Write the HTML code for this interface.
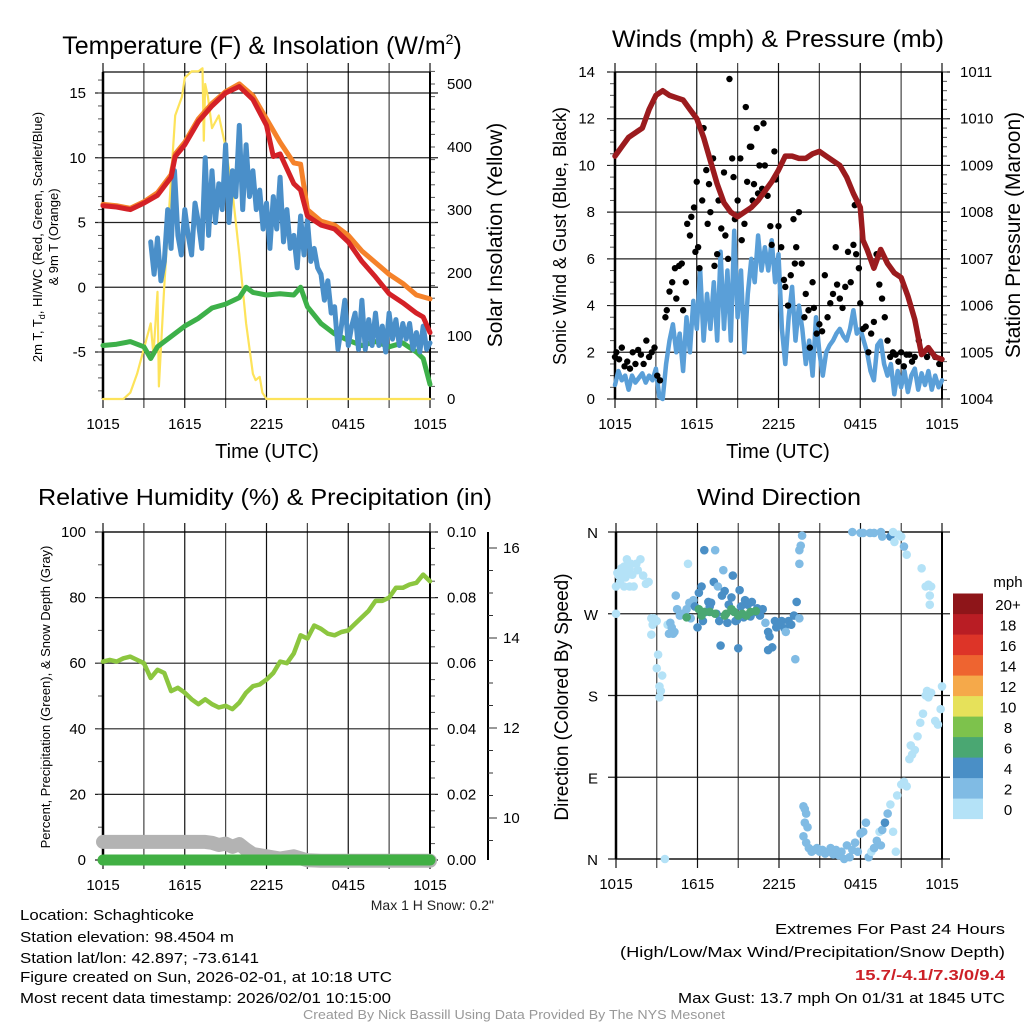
<!DOCTYPE html>
<html><head><meta charset="utf-8"><style>
html,body{margin:0;padding:0;background:#fff;}
svg{display:block;font-family:"Liberation Sans",sans-serif;}
</style></head><body>
<svg id="fig" xmlns="http://www.w3.org/2000/svg" width="1024" height="1024" viewBox="0 0 1024 1024"></svg>
<script>
// ---------- Panel 1 data ----------
const redT=[0,1,2,3,4,5,5.3,6,7,8,9,10,11,12,12.5,13,14,14.5,15,16,17,18,19,20,21,22,23,23.5,24];
const redV=[6.3,6.2,6.0,6.5,7.1,8.5,10.1,11.0,12.8,14.0,15.0,15.5,14.5,12.5,10.1,10.3,8.0,7.5,5.5,4.8,4.5,3.5,2.0,0.8,-0.5,-1.2,-2.0,-2.3,-3.5];
const orangeT=[0,1,2,3,4,5,5.3,6,7,8,9,10,11,12,13,14,14.5,15,16,17,18,19,20,21,22,23,24];
const orangeV=[6.4,6.3,6.1,6.6,7.3,8.7,10.3,11.2,13.0,14.2,15.1,15.7,14.8,13.0,11.2,9.6,9.5,6.0,5.1,4.8,4.0,2.8,1.9,1.0,0.3,-0.6,-0.9];
const greenT=[0,1,2,3,3.5,4,5,6,7,8,9,10,10.5,11,12,13,14,14.5,15,16,17,18,19,20,21,22,23,23.5,24];
const greenV=[-4.5,-4.4,-4.2,-4.6,-5.5,-4.6,-3.8,-3.0,-2.4,-1.6,-1.3,-0.8,0.0,-0.4,-0.6,-0.5,-0.6,0.0,-1.5,-2.8,-3.6,-4.1,-4.5,-4.2,-4.6,-4.3,-5.0,-5.5,-7.5];
const wcStart=3.5, wcStep=0.25;
const wcV=[3.5,1,3.8,0.5,2,6,3,9,4,2.5,6,4,2.5,6.5,5,3,10,4,9,5,8,6,11,5,9,7,12.5,6,11,7,9,6,7.5,4.5,6.5,3,7.0,4.5,8.5,3.5,6,3,4,1.5,5.5,2.5,5.2,2,3,1.5,1.0,-1,0.5,-2,-1.5,-4.8,-3,-1,-4.5,-3,-2,-4.8,-1,-4.8,-2.5,-4.5,-2,-4.5,-3,-5,-2,-4,-2.5,-4.5,-2.8,-4,-2.8,-4.8,-3.5,-5,-3,-4.8,-4.3];
const solT=[0,1.5,2,2.5,3,3.5,3.7,4,4.1,4.5,5,5.3,5.8,6,6.5,7,7.3,7.4,7.5,7.7,8,8.5,9,9.5,10,10.5,11,11.2,11.5,11.7,12,24];
const solV=[0,0,10,40,80,120,70,170,20,180,350,450,480,510,520,520,525,410,500,480,430,450,400,330,230,120,40,30,35,10,0,0];
// ---------- Panel 2 data ----------
const windStart=0, windStep=0.25;
const windV=[0.6,1.2,0.8,1.0,0.4,1.0,0.7,0.9,1.1,0.7,1.0,0.8,1.3,0.1,0.0,1.5,2.5,3.2,2.0,2.8,1.2,3.5,2.0,4.2,3.0,5.5,2.5,4.5,3.0,5.0,2.5,6.3,3.0,5.5,2.5,7.2,3.5,5.5,2.0,4.5,6.0,5.0,7.0,5.5,6.5,5.5,6.8,5.0,6.2,3.0,1.5,3.5,4.8,2.5,4.0,3.0,1.5,2.5,1.0,3.5,2.0,1.0,2.0,2.3,2.5,2.8,3.0,2.7,2.5,3.0,3.8,2.8,3.0,2.5,2.0,1.2,0.8,2.3,2.5,1.5,1.0,1.5,0.2,1.2,0.5,1.2,0.3,1.0,1.3,0.4,1.1,0.6,1.2,0.4,1.0,0.5,0.8];
const gustT=[0,0.1,0.3,0.5,0.7,0.9,1.1,1.3,1.5,1.7,1.9,2.1,2.3,2.5,2.7,2.9,3.1,3.3,3.7,3.8,4.0,4.2,4.4,4.5,4.7,4.9,5.0,5.2,5.3,5.5,5.6,5.8,5.9,6.0,6.1,6.2,6.4,6.5,6.7,6.8,6.9,7.0,7.2,7.3,7.5,7.6,7.8,8.0,8.1,8.3,8.4,8.6,8.7,8.8,9.0,9.2,9.3,9.5,9.6,9.7,9.9,10.0,10.1,10.2,10.4,10.5,10.6,10.8,10.9,11.0,11.2,11.4,11.5,11.7,11.8,12.0,12.2,12.4,12.5,12.7,12.9,13.1,13.2,13.3,13.5,13.7,13.9,14.0,14.2,14.3,14.5,14.6,14.8,15.0,15.2,15.4,15.6,15.8,16.0,16.2,16.3,16.5,16.7,16.9,17.1,17.3,17.5,17.6,17.7,17.9,18.0,18.2,18.4,18.6,18.8,19.0,19.2,19.4,19.6,19.8,20.0,20.2,20.4,20.6,20.8,21.0,21.2,21.4,21.6,21.8,22.0,22.3,22.6,22.9,23.2,23.5,23.8];
const gustV=[1.8,2.0,1.7,2.2,1.4,1.6,1.3,2.0,1.5,2.1,1.9,1.5,2.5,1.8,2.0,2.2,1.0,0.8,3.5,3.8,4.6,5.0,5.6,4.3,5.7,5.8,3.8,5.0,7.5,7.0,7.8,8.2,6.3,9.3,6.5,5.6,8.5,11.6,9.8,7.5,9.2,8.0,10.3,5.7,6.2,8.5,7.3,9.7,7.0,6.0,13.7,10.3,9.5,7.7,8.5,10.3,6.8,7.5,12.5,9.3,10.8,10.8,8.5,9.2,11.6,8.8,10.0,9.0,11.8,10.0,8.7,7.4,6.6,10.6,9.4,7.4,6.5,5.1,4.8,4.0,5.3,7.7,5.8,6.5,8.0,5.8,3.5,4.5,3.8,2.2,5.0,3.9,2.8,3.2,2.9,5.3,3.5,4.1,4.5,6.5,4.9,4.3,3.9,4.8,6.3,5.0,6.6,8.3,6.2,5.6,4.1,3.0,3.1,2.0,2.8,3.3,6.2,4.9,4.3,3.5,2.5,1.8,2.0,1.9,1.6,2.0,1.4,1.9,1.9,1.6,1.8,2.5,2.0,1.8,2.0,1.8,1.5];
const presT=[0,0.5,1,1.5,2,2.5,3,3.5,4,4.5,5,5.5,6,6.5,7,7.5,8,8.5,9,9.5,10,10.5,11,11.5,12,12.5,13,13.5,14,14.5,15,15.5,16,16.5,17,17.5,18,18.2,18.5,19,19.5,20,20.5,21,21.5,22,22.5,23,23.5,24];
const presV=[1009.2,1009.4,1009.6,1009.7,1009.8,1010.2,1010.5,1010.6,1010.5,1010.45,1010.4,1010.2,1010.0,1009.6,1009.1,1008.6,1008.2,1008.0,1007.9,1008.0,1008.1,1008.25,1008.45,1008.65,1008.9,1009.2,1009.2,1009.15,1009.15,1009.25,1009.3,1009.2,1009.1,1009.0,1008.75,1008.4,1008.1,1007.4,1007.2,1006.8,1007.2,1006.9,1006.7,1006.6,1006.2,1005.7,1004.95,1005.1,1004.9,1004.85];
// ---------- Panel 3 data ----------
const rhT=[0,0.5,1,1.5,2,2.5,3,3.5,4,4.5,5,5.5,6,6.5,7,7.5,8,8.5,9,9.5,10,10.5,11,11.5,12,12.5,13,13.5,14,14.5,15,15.5,16,16.5,17,17.5,18,18.5,19,19.5,20,20.5,21,21.5,22,22.5,23,23.5,24];
const rhV=[60.5,61,60.5,61.5,62,61,60,55.5,58,57,51.5,52.5,51,49,47.5,49,47.5,46.5,47,46,48,51,53,53.5,55,57,60.5,60,63,68.5,67.5,71.5,70.5,69,68.5,69.5,70,72,74,76,79,79,80,83,83,84,84.5,87,85];
const snowT=[0,7.5,8,8.5,9,9.5,10,10.5,11,12,13,14,15,16,24];
const snowV=[9.47,9.47,9.45,9.4,9.43,9.36,9.42,9.3,9.2,9.15,9.1,9.15,9.06,9.05,9.05];
const precipT=[0,24];
const precipV=[0,0];
// ---------- Panel 4 data ----------
const dirT=[0,0.1,0.2,0.3,0.4,0.5,0.6,0.7,0.8,0.9,1.0,1.1,1.2,1.3,1.5,1.6,1.8,2.0,2.2,2.4,0.6,1.0,0.0,2.6,2.8,2.7,2.6,3.0,3.1,3.0,3.2,3.3,3.2,3.4,3.6,3.8,4.0,4.2,4.1,4.3,3.9,4.4,4.5,4.7,4.9,5.1,5.2,5.4,5.5,5.3,5.7,5.8,6.0,6.1,6.3,6.5,6.4,6.6,6.8,6.9,7.0,7.2,7.3,7.4,7.5,7.6,7.7,7.8,7.9,8.0,8.2,8.3,8.5,8.6,8.8,8.9,9.0,9.1,9.2,9.4,9.5,9.7,9.9,10.0,10.2,10.4,10.6,10.8,11.0,11.2,11.3,11.2,11.5,11.7,11.8,12.0,12.2,12.4,12.5,12.7,12.9,13.1,13.3,13.5,13.2,13.5,13.6,13.5,13.7,6.1,6.3,6.5,6.9,7.3,8.0,8.1,8.5,8.7,9.0,9.3,9.6,9.9,10.3,5.2,13.8,13.9,14.0,13.9,14.1,13.8,14.0,14.2,14.4,14.6,14.8,15.0,15.2,15.4,15.6,15.8,16.0,16.2,16.4,16.6,16.8,17.0,17.2,17.4,17.6,17.8,18.0,18.2,18.4,18.6,18.8,19.0,19.2,19.4,19.6,19.8,19.5,20.0,20.2,20.4,20.6,20.7,21.0,21.2,21.4,21.6,21.8,21.7,22.0,22.2,22.4,22.6,22.8,22.9,23.0,23.2,23.5,23.7,23.9,24.0,17.4,18.0,18.2,18.7,19.0,19.5,19.6,20.2,20.4,20.5,20.8,21.0,21.2,21.4,22.5,22.8,23.0,23.1,23.1,23.2];
const dirV=[300,315,312,305,320,318,322,310,330,315,320,325,313,300,325,318,330,312,303,305,300,300,270,265,265,258,247,262,225,210,190,185,178,202,0,258,260,248,255,250,248,290,275,268,270,268,275,282,265,325,285,278,255,293,300,340,262,272,283,278,282,305,340,270,300,262,235,290,318,295,260,280,288,312,262,263,232,296,278,266,285,280,267,283,272,276,268,275,260,250,245,230,233,262,255,258,262,254,250,262,258,268,283,265,220,325,345,340,356,275,268,272,272,270,268,270,275,272,268,270,268,272,273,266,58,55,50,40,35,25,18,12,8,10,12,8,10,6,8,12,5,10,4,8,0,15,2,10,18,8,28,30,40,2,8,12,20,30,32,40,15,50,60,30,8,70,82,85,80,110,115,125,120,135,150,160,180,185,178,183,152,148,165,190,360,359,359,359,359,360,355,355,360,349,357,355,344,335,320,300,302,290,280,300];
const dirS=[1,1,1,1,1,1,1,1,1,1,1,1,1,1,1,1,1,1,1,1,1,1,1,1,1,1,1,1,1,1,1,1,1,1,1,1,3,3,3,3,3,3,3,3,3,3,3,3,3,1,3,5,5,5,5,5,5,5,5,5,5,5,3,5,3,5,5,5,3,5,5,5,5,5,5,5,5,5,5,5,5,5,5,5,5,5,5,5,3,5,5,5,5,5,5,5,5,5,3,5,5,5,5,3,3,3,3,3,3,7,7,7,7,7,7,7,7,7,7,7,7,7,7,7,3,3,3,3,3,3,3,3,3,3,3,3,3,3,3,3,3,3,3,3,3,3,3,3,3,3,3,3,3,3,1,3,3,1,3,5,3,3,1,1,1,1,1,1,1,1,1,1,1,1,1,1,1,1,1,1,1,1,1,1,3,3,3,3,3,3,3,5,1,1,1,1,3,1,1,1,1,1,1,1,1,1,1,1];
const cbLabels=["0","2","4","6","8","10","12","14","16","18","20+"];
const cbColors=["#b4e2f7","#80bbe4","#4a8fc6","#4aa772","#7dc24c","#e6e15a","#f5a94a","#ee6430","#dd3428","#b91d24","#8e1519"];

const NS="http://www.w3.org/2000/svg";
const svg=document.getElementById('fig');
function el(tag,attrs,parent){const e=document.createElementNS(NS,tag);for(const k in attrs)e.setAttribute(k,attrs[k]);(parent||svg).appendChild(e);return e;}
function txt(x,y,s,size,anchor,parent,extra){const t=el('text',Object.assign({x:x,y:y,'font-size':size,'text-anchor':anchor||'middle',fill:'#000'},extra||{}),parent);t.textContent=s;return t;}

const P1={x0:103,x1:430,y0:72,y1:399};
const P2={x0:615,x1:942,y0:72,y1:399};
const P3={x0:103,x1:430,y0:532,y1:860};
const P4={x0:616,x1:942,y0:532,y1:859};
function X(p,h){return p.x0+h*(p.x1-p.x0)/24;}
function lin(d0,d1,r0,r1){return v=>r0+(v-d0)*(r1-r0)/(d1-d0);}
const yT=lin(-5,15,352,93), yS=lin(0,500,399,84);
const yW=lin(0,14,399,72), yP=lin(1004,1011,399,72);
const yR=lin(0,100,860,532), ySn=lin(10,16,818,548), yPr=lin(0,0.1,860,532);
const yD=lin(0,360,859,532);
const hourLabels=["1015","1615","2215","0415","1015"];

function frame(p,name,hLines,minorL,minorR){
  const g=el('g',{});
  
  
  for(let h=0;h<=24;h+=3){
    const l=el('line',{x1:X(p,h),x2:X(p,h),y1:p.y0-9,y2:p.y1+9,stroke:(h%6==0)?'#111':'#444','stroke-width':1.2},g);
    
    
  }
  hLines.forEach(y=>{
    const l=el('line',{x1:p.x0-8,x2:p.x1+8,y1:y,y2:y,stroke:'#222','stroke-width':1.2},g);
    
    
  });
  (minorL||[]).forEach(y=>{
    const l=el('line',{x1:p.x0-5,x2:p.x0,y1:y,y2:y,stroke:'#555','stroke-width':1},g);
    
    
  });
  (minorR||[]).forEach(y=>{
    const l=el('line',{x1:p.x1,x2:p.x1+5,y1:y,y2:y,stroke:'#555','stroke-width':1},g);
    
    
  });
  const r=el('rect',{x:p.x0,y:p.y0,width:p.x1-p.x0,height:p.y1-p.y0,fill:'none',stroke:'#000','stroke-width':1.2},g);
  
  
  const la=el('line',{x1:p.x0,x2:p.x0,y1:p.y0,y2:p.y1,stroke:'#000','stroke-width':2.5},g);
  
  
  const ra=el('line',{x1:p.x1,x2:p.x1,y1:p.y0,y2:p.y1,stroke:'#000','stroke-width':2},g);
  
  
  hourLabels.forEach((s,i)=>{
    const t=txt(X(p,i*6),p.y1+30,s,15,'middle',g);
    
    
  });
  return g;
}
function path(pts,attrs,name){
  const d=pts.map((q,i)=>(i?'L':'M')+q[0].toFixed(1)+' '+q[1].toFixed(1)).join(' ');
  const e=el('path',Object.assign({d:d,fill:'none','stroke-linejoin':'round','stroke-linecap':'round'},attrs));
  return e;
}
function range(a,b,s){const r=[];for(let v=a;v<=b+1e-9;v+=s)r.push(v);return r;}

// ---------- Panel 1 ----------
frame(P1,'temperature',[-5,0,5,10,15].map(yT),range(-8,16,1).map(yT),range(0,520,20).map(yS));
[-5,0,5,10,15].forEach(v=>{const t=txt(86,yT(v)+5,String(v),15,'end');
  
  });
[0,100,200,300,400,500].forEach(v=>{const t=txt(447,yS(v)+5,String(v),15,'start');
  
  });
{
 const s=path(solT.map((h,i)=>[X(P1,h),yS(solV[i])]),{stroke:'#fde35a','stroke-width':2.2});
 
 
 const g1=path(greenT.map((h,i)=>[X(P1,h),yT(greenV[i])]),{stroke:'#3db049','stroke-width':5});
 
 
 const b=path(wcV.map((v,i)=>[X(P1,wcStart+i*wcStep),yT(v)]),{stroke:'#4a8fc9','stroke-width':5});
 
 
 const o=path(orangeT.map((h,i)=>[X(P1,h),yT(orangeV[i])]),{stroke:'#f5822a','stroke-width':5});
 
 
 const r=path(redT.map((h,i)=>[X(P1,h),yT(redV[i])]),{stroke:'#d42127','stroke-width':5});
 
 
}
{
 const t=txt(267,54,'Temperature (F) & Insolation (W/m',24,'middle',null,{});
 
 
 const ts=el('tspan',{'font-size':14,dy:-10},t);ts.textContent='2';
 const ts2=el('tspan',{dy:10},t);ts2.textContent=')';
 t.setAttribute('x',262);
 t.setAttribute('font-size',25);
 const a=txt(0,0,'',13,'middle',null,{transform:'translate(42,237) rotate(-90)'});
 
 
 a.appendChild(document.createTextNode('2m T, T'));
 const sd=el('tspan',{'font-size':9,dy:3},a);sd.textContent='d';
 const rest=el('tspan',{dy:-3},a);rest.textContent=', HI/WC (Red, Green, Scarlet/Blue)';
 const a2=txt(0,0,'& 9m T (Orange)',13,'middle',null,{transform:'translate(58,237) rotate(-90)'});
 
 
 const r=txt(0,0,'Solar Insolation (Yellow)',21,'middle',null,{transform:'translate(502,235) rotate(-90)'});
 
 
 const x=txt(267,458,'Time (UTC)',20,'middle');
 
 
}

// ---------- Panel 2 ----------
frame(P2,'wind',range(0,14,2).map(yW),range(0,14,0.5).map(yW),range(1004,1011,0.2).map(yP));
range(0,14,2).forEach(v=>{const t=txt(595,yW(v)+5,String(v),15,'end');
  
  });
range(1004,1011,1).forEach(v=>{const t=txt(960,yP(v)+5,String(v),15,'start');
  
  });
{
 const w=path(windV.map((v,i)=>[X(P2,windStart+i*windStep),yW(v)]),{stroke:'#5a9fd8','stroke-width':4.5});
 
 
 gustT.forEach((h,i)=>{
   const c=el('circle',{cx:X(P2,h),cy:yW(gustV[i]),r:3.2,fill:'#000'});
   
   
 });
 const p=path(presT.map((h,i)=>[X(P2,h),yP(presV[i])]),{stroke:'#9b1b1e','stroke-width':5.5});
 
 
 const t=txt(778,47,'Winds (mph) & Pressure (mb)',24,'middle',null,{textLength:332,lengthAdjust:'spacingAndGlyphs'});
 
 
 const a=txt(0,0,'Sonic Wind & Gust (Blue, Black)',18,'middle',null,{transform:'translate(566,236) rotate(-90)'});
 
 
 const r=txt(0,0,'Station Pressure (Maroon)',21,'middle',null,{transform:'translate(1020,235) rotate(-90)'});
 
 
 const x=txt(778,458,'Time (UTC)',20,'middle');
 
 
}

// ---------- Panel 3 ----------
frame(P3,'humidity',range(0,100,20).map(yR),range(0,100,10).map(yR),range(0,0.1,0.005).map(yPr));
range(0,100,20).forEach(v=>{const t=txt(86,yR(v)+5,String(v),15,'end');
  
  });
range(0,0.1,0.02).forEach(v=>{const t=txt(447,yPr(v)+5,v.toFixed(2),15,'start');
  
  });
{
 const ax=el('line',{x1:488,x2:488,y1:532,y2:860,stroke:'#000','stroke-width':2});
 
 
 range(9,16,0.5).forEach(v=>{if(ySn(v)<532||ySn(v)>860)return;
   const l=el('line',{x1:488,x2:v%2==0?497:493,y1:ySn(v),y2:ySn(v),stroke:'#333','stroke-width':1});
   
   });
 [10,12,14,16].forEach(v=>{const t=txt(503,ySn(v)+5,String(v),15,'start');
   
   });
 const s=path(snowT.map((h,i)=>[X(P3,h),ySn(snowV[i])]),{stroke:'#b3b3b3','stroke-width':14});
 
 
 const pr=path(precipT.map((h,i)=>[X(P3,h),yPr(precipV[i])]),{stroke:'#41b044','stroke-width':11});
 
 
 const rh=path(rhT.map((h,i)=>[X(P3,h),yR(rhV[i])]),{stroke:'#8cc63f','stroke-width':4.5});
 
 
 const t=txt(265,505,'Relative Humidity (%) & Precipitation (in)',23,'middle',null,{textLength:454,lengthAdjust:'spacingAndGlyphs'});
 
 
 const a=txt(0,0,'Percent, Precipitation (Green), & Snow Depth (Gray)',13,'middle',null,{transform:'translate(50,697) rotate(-90)'});
 
 
 const m=txt(494,910,'Max 1 H Snow: 0.2"',14,'end',null,{fill:'#222'});
 
 
}

// ---------- Panel 4 ----------
frame(P4,'wind-direction',[0,90,180,270,360].map(yD),[],[]);
[["N",0],["E",90],["S",180],["W",270],["N",360]].forEach(q=>{const t=txt(598,yD(q[1])+6,q[0],15,'end');
  
  });
{
 function colorFor(s){return cbColors[Math.min(10,Math.floor(s/2))];}
 dirT.forEach((h,i)=>{
   const c=el('circle',{cx:X(P4,h),cy:yD(dirV[i]),r:4.3,fill:colorFor(dirS[i])});
   
   
 });
 const t=txt(779,505,'Wind Direction',23,'middle',null,{textLength:164,lengthAdjust:'spacingAndGlyphs'});
 
 
 const a=txt(0,0,'Direction (Colored By Speed)',19,'middle',null,{transform:'translate(568,697) rotate(-90)'});
 
 
 const cb=el('g',{});
 
 
 cbColors.forEach((c,i)=>{
   const r=el('rect',{x:953,y:819-(i+1)*20.5,width:30,height:20.6,fill:c},cb);
   
   
   const t2=txt(1008,819-(i+0.5)*20.5+6,cbLabels[i],15,'middle',cb);
   
   
 });
 const u=txt(1008,587,'mph',15,'middle');
 
 
}

// ---------- Footer text ----------
const leftLines=[["Location: Schaghticoke",920,174],["Station elevation: 98.4504 m",942,214],["Station lat/lon: 42.897; -73.6141",963,239],["Figure created on Sun, 2026-02-01, at 10:18 UTC",982,372],["Most recent data timestamp: 2026/02/01 10:15:00",1003,371]];
leftLines.forEach(q=>{const t=txt(20,q[1],q[0],15,'start',null,{textLength:q[2],lengthAdjust:'spacingAndGlyphs'});
  
  });
const rightLines=[["Extremes For Past 24 Hours",934,230,'#000','normal'],["(High/Low/Max Wind/Precipitation/Snow Depth)",957,385,'#000','normal'],["15.7/-4.1/7.3/0/9.4",980,150,'#cc2027','bold'],["Max Gust: 13.7 mph On 01/31 at 1845 UTC",1003,327,'#000','normal']];
rightLines.forEach(q=>{const t=txt(1005,q[1],q[0],15,'end',null,{textLength:q[2],lengthAdjust:'spacingAndGlyphs',fill:q[3],'font-weight':q[4]});
  
  });
{
 const t=txt(514,1019,'Created By Nick Bassill Using Data Provided By The NYS Mesonet',13,'middle',null,{fill:'#999',textLength:422,lengthAdjust:'spacingAndGlyphs'});
 
 
}
</script>
</body></html>
